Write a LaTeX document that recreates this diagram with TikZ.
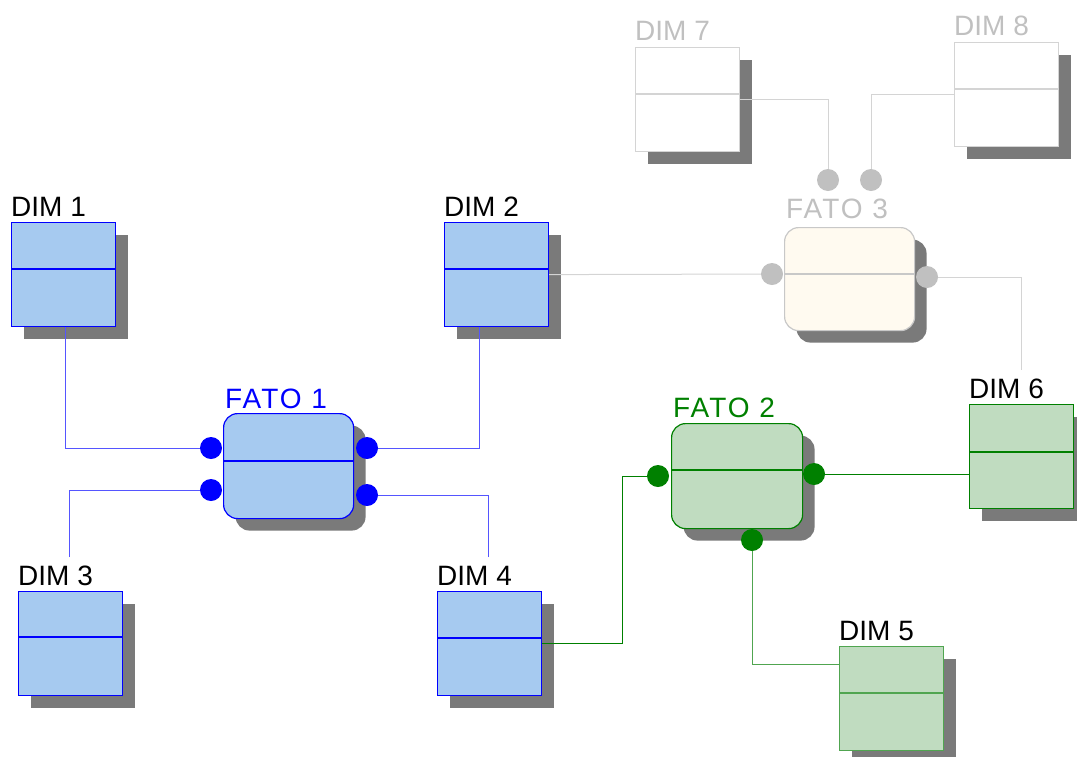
\documentclass[tikz,border=0pt]{standalone}
\usepackage{fontspec}
\setmainfont{Liberation Sans}
\usetikzlibrary{shadows}

\definecolor{bfill}{RGB}{166,202,240}
\definecolor{bline}{RGB}{0,0,255}
\definecolor{bwire}{RGB}{85,85,255}
\definecolor{gfill}{RGB}{192,220,192}
\definecolor{gline}{RGB}{0,128,0}
\definecolor{gsoft}{RGB}{80,165,80}
\definecolor{ivory}{RGB}{255,250,240}
\definecolor{pale}{RGB}{200,200,200}
\definecolor{wire}{RGB}{212,212,212}
\definecolor{dotgray}{RGB}{192,192,192}
\definecolor{shade}{RGB}{122,122,122}

\tikzset{
  x=1pt, y=-1pt,
  shadowed/.style={drop shadow={shadow xshift=12pt, shadow yshift=-12pt, fill=shade, opacity=1}},
  dimbox/.style={shadowed, rectangle, anchor=north west, inner sep=0pt,
    minimum width=104pt, minimum height=104pt, line width=1.2pt},
  fatobox/.style={shadowed, rectangle, rounded corners=14pt, anchor=north west,
    inner sep=0pt, line width=1.2pt},
  lbl/.style={anchor=base west, inner sep=0pt, font=\fontsize{28}{32}\selectfont},
  flbl/.style={lbl, font=\fontsize{28}{32}\selectfont\addfontfeature{LetterSpace=7}},
  pin/.style={circle, inner sep=0pt, minimum size=22pt},
  bluebox/.style={draw=bline, fill=bfill},
  greenbox/.style={draw=gline, fill=gfill},
  ghostbox/.style={draw=pale, fill=white},
  link/.style={line width=1pt},
}

\newcommand{\midrule}[3]{% node, offset from top, colour
  \draw[#3, line width=1.2pt] ([yshift=-#2pt]#1.north west) -- ([yshift=-#2pt]#1.north east);}

\begin{document}
\begin{tikzpicture}
\useasboundingbox (0,0) rectangle (1077,756);

% dimension tables
\node[dimbox, bluebox] (d1) at (11,222) {};
\node[dimbox, bluebox] (d2) at (444,222) {};
\node[dimbox, bluebox] (d3) at (18,591) {};
\node[dimbox, bluebox] (d4) at (437,591) {};
\node[dimbox, draw=gsoft, fill=gfill] (d5) at (839,646) {};
\node[dimbox, greenbox] (d6) at (969,404) {};
\node[dimbox, ghostbox, draw=wire] (d7) at (635,47) {};
\node[dimbox, ghostbox, draw=wire] (d8) at (954,42) {};

\midrule{d1}{47}{bline}
\midrule{d2}{47}{bline}
\midrule{d3}{46}{bline}
\midrule{d4}{47}{bline}
\midrule{d5}{47}{gsoft}
\midrule{d6}{48}{gline}
\midrule{d7}{47}{wire}
\midrule{d8}{47}{wire}

% fact tables
\node[fatobox, bluebox, minimum width=130pt, minimum height=105pt] (f1) at (223,413) {};
\node[fatobox, greenbox, minimum width=131pt, minimum height=105pt] (f2) at (671,423) {};
\node[fatobox, draw=pale, fill=ivory, minimum width=130pt, minimum height=103pt] (f3) at (784,227) {};

\midrule{f1}{48}{bline}
\midrule{f2}{47}{gline}
\midrule{f3}{47}{pale}

% labels
\node[lbl] (t1) at ([yshift=6pt]d1.north west) {DIM 1};
\node[lbl] (t2) at ([yshift=6pt]d2.north west) {DIM 2};
\node[lbl] (t3) at ([yshift=6pt]d3.north west) {DIM 3};
\node[lbl] (t4) at ([yshift=6pt]d4.north west) {DIM 4};
\node[lbl] (t5) at ([yshift=6pt]d5.north west) {DIM 5};
\node[lbl] (t6) at ([yshift=6pt]d6.north west) {DIM 6};
\node[lbl, text=dotgray] (t7) at ([yshift=7pt]d7.north west) {DIM 7};
\node[lbl, text=dotgray] (t8) at ([yshift=7pt]d8.north west) {DIM 8};
\node[flbl, text=bline] (g1) at ([xshift=2pt,yshift=5pt]f1.north west) {FATO 1};
\node[flbl, text=gline] (g2) at ([xshift=2pt,yshift=6pt]f2.north west) {FATO 2};
\node[flbl, text=dotgray] (g3) at ([xshift=2pt,yshift=9pt]f3.north west) {FATO 3};

% connection pins
\node[pin] (p1a) at (211,448) {};
\node[pin] (p1b) at (211,490) {};
\node[pin] (p1c) at (367,448) {};
\node[pin] (p1d) at (367,495) {};
\node[pin] (p2a) at (658,476) {};
\node[pin] (p2b) at (814,474) {};
\node[pin] (p2c) at (752,540) {};
\node[pin] (p3a) at (772,274) {};
\node[pin] (p3b) at (927,277) {};
\node[pin] (p3c) at (828,180) {};
\node[pin] (p3d) at (871,180) {};

% free ends stopping short of the labels
\coordinate (e3) at (69,557);
\coordinate (e4) at (488,557);
\coordinate (e6) at (1021,370);

% connectors
\draw[link, bwire] ([xshift=2pt]d1.south) |- (p1a);
\draw[link, bwire] (e3) |- (p1b);
\draw[link, bwire] ([xshift=-17pt]d2.south) |- (p1c);
\draw[link, bwire] (e4) |- (p1d);
\draw[link, gline] (d4.east) -| ([xshift=-36pt]p2a.center) -- (p2a);
\draw[link, gline] (p2b) -- (d6.west |- p2b);
\draw[link, gsoft] (p2c) |- ([yshift=34pt]d5.west);
\draw[link, wire] (d2.east) -- (p3a);
\draw[link, wire] (p3b) -| (e6);
\draw[link, wire] (d7.east) -| (p3c);
\draw[link, wire] (d8.west) -| (p3d);

% pins on top
\foreach \p in {p1a,p1b,p1c,p1d} \fill[bline] (\p) circle (11pt);
\foreach \p in {p2a,p2b,p2c} \fill[gline] (\p) circle (11pt);
\foreach \p in {p3a,p3b,p3c,p3d} \fill[dotgray] (\p) circle (11pt);
\end{tikzpicture}
\end{document}
